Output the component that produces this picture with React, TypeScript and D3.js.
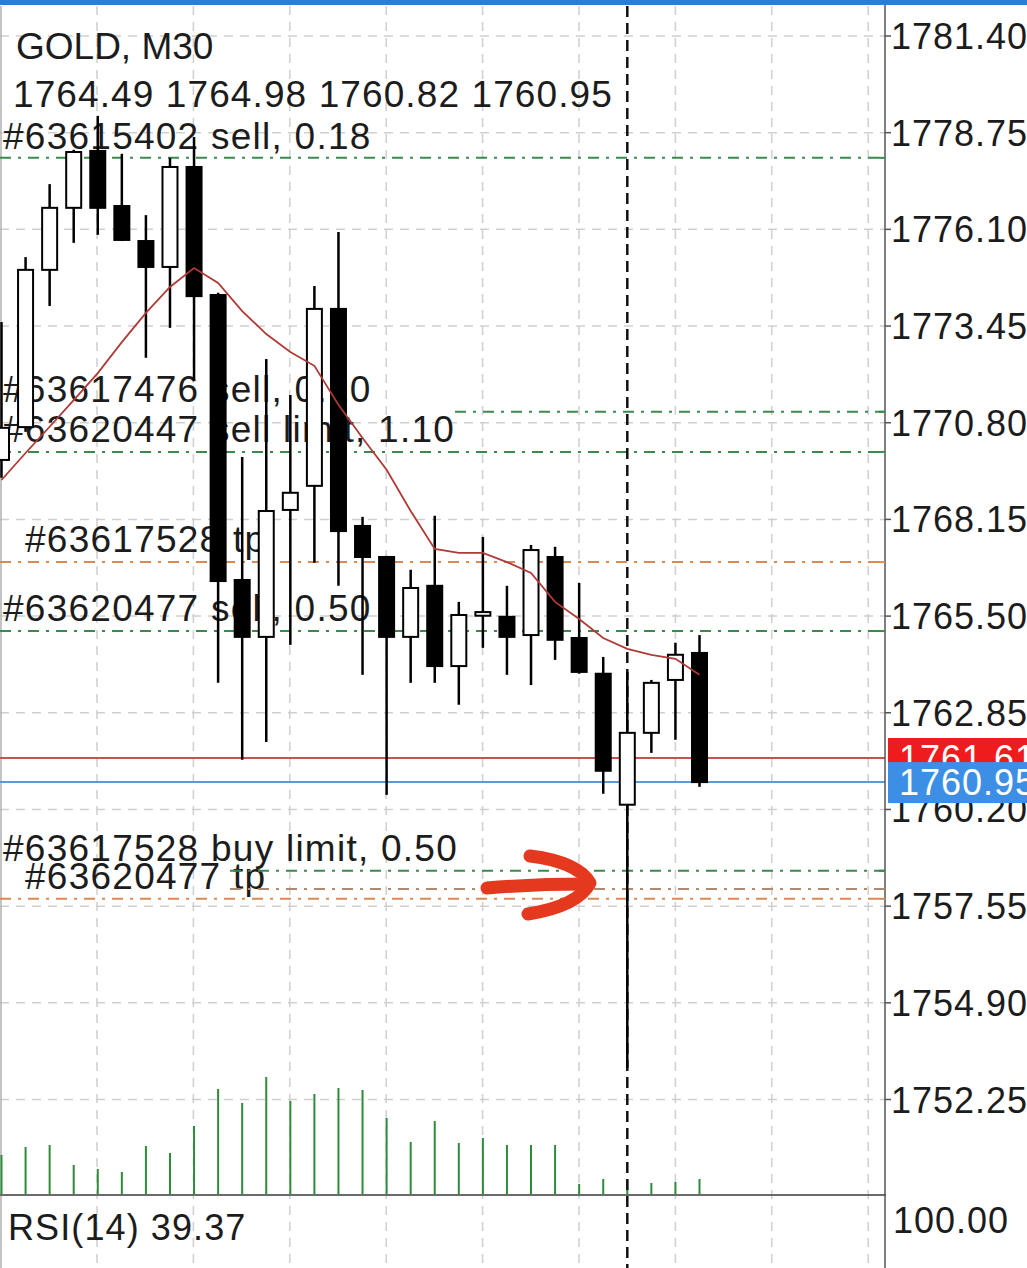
import React from 'react';
import * as d3 from 'd3';

// ---- data ----
const opens = [1769.78,1770.68,1774.99,1776.69,1778.25,1776.74,1775.78,1775.07,1777.81,1774.30,1766.49,1764.93,1768.41,1769.07,1773.92,1767.97,1767.12,1764.93,1766.33,1764.13,1765.51,1765.48,1764.98,1767.12,1764.90,1763.92,1760.33,1762.30,1763.75,1764.49];
const highs = [1773.56,1775.34,1777.34,1778.28,1779.21,1778.17,1776.49,1778.06,1778.63,1774.36,1769.86,1772.55,1771.56,1774.55,1776.03,1768.22,1767.15,1766.77,1768.25,1765.89,1767.67,1766.33,1767.45,1767.40,1766.41,1764.38,1763.97,1763.75,1764.77,1764.98];
const lows = [1769.29,1770.55,1774.00,1775.73,1775.95,1775.78,1772.58,1773.40,1771.97,1763.67,1761.56,1762.05,1764.71,1766.96,1766.33,1763.89,1760.60,1763.67,1763.67,1763.07,1764.63,1763.89,1763.61,1764.30,1763.92,1760.63,1753.12,1761.75,1762.11,1760.82];
const closes = [1770.66,1774.99,1776.69,1778.22,1776.69,1775.81,1775.07,1777.81,1774.27,1766.46,1764.93,1768.38,1768.88,1773.92,1767.83,1767.12,1764.93,1766.27,1764.13,1765.53,1765.61,1764.93,1767.31,1764.85,1763.97,1761.26,1762.30,1763.67,1764.44,1760.95];
const volumes = [39,47,49,29,25,22,48,41,68,105,91,117,93,100,106,104,76,52,73,51,56,49,49,49,10,15,14,11,12,15];
const maValues = [1769.23,1769.97,1770.69,1771.42,1772.16,1773.01,1773.81,1774.52,1775.04,1774.63,1773.86,1773.23,1772.74,1772.36,1771.29,1770.38,1769.51,1768.38,1767.34,1767.23,1767.23,1766.98,1766.68,1765.89,1765.42,1764.90,1764.60,1764.44,1764.33,1763.89];
const priceTicks = [1781.40,1778.75,1776.10,1773.45,1770.80,1768.15,1765.50,1762.85,1760.20,1757.55,1754.90,1752.25];
const gridBars = [4,8,12,16,20,24,28,32,36];

const orderLevels = [1778.06, 1771.10, 1770.00, 1766.98, 1765.09, 1758.52, 1758.02, 1757.75];
const orderTypes = ['green','green','green','orange','green','green','brown','orange'];
const orderLabels = [
  '#63615402 sell, 0.18',
  '#63617476 sell, 0.10',
  '#63620447 sell limit, 1.10',
  '#63617528 tp',
  '#63620477 sell, 0.50',
  '#63617528 buy limit, 0.50',
  '#63620477 tp',
];
const askPrice = 1761.61;
const bidPrice = 1760.95;
const titleText = 'GOLD, M30';
const ohlcText = '1764.49 1764.98 1760.82 1760.95';
const rsiText = 'RSI(14) 39.37';
const rsiTopLabel = '100.00';
const crossBar = 26;

// ---- layout / style ----
const W = 1027, H = 1268;
const AXIS_X = 885;
const FONT = '"Liberation Sans", Arial, Helvetica, sans-serif';
const lineColors: Record<string, string> = { green: '#3b8a4c', orange: '#d98a55', brown: '#b08a70' };
const orderLineStart = [0, 455, 0, 0, 0, 230, 230, 0];
const labelPos = [
  [3, 149], [3, 402], [3, 442], [25, 552], [3, 621], [3, 861], [25, 889],
];

export default function App() {
  const x = d3.scaleLinear().domain([0, 29]).range([1.5, 699.5]);
  const y = d3.scaleLinear().domain([1781.40, 1752.25]).range([36, 1099.5]);
  const vy = d3.scaleLinear().domain([0, 100]).range([1194, 1094]);
  const maLine = d3.line<number>().x((_, i) => x(i)).y(d => y(d))(maValues) || '';
  const bodyW = 15;

  return (
    <svg width={W} height={H} style={{ position: 'absolute', left: 0, top: 0, background: '#fff' }}
      fontFamily={FONT}>
      <rect x={0} y={0} width={W} height={H} fill="#fff" />
      {/* horizontal grid */}
      {priceTicks.map((t, i) => (
        <line key={'hg' + i} x1={0} x2={AXIS_X} y1={y(t)} y2={y(t)} stroke="#cfcfcf" strokeWidth={1.5} strokeDasharray="9 7" />
      ))}
      {/* vertical grid */}
      {gridBars.map((b, i) => (
        <line key={'vg' + i} x1={97 + (b - 4) * 24.1} x2={97 + (b - 4) * 24.1} y1={6} y2={H} stroke="#cfcfcf" strokeWidth={1.5} strokeDasharray="9 7" />
      ))}
      <line x1={1} x2={1} y1={6} y2={H} stroke="#b0b0b0" strokeWidth={1.5} />

      {/* texts */}
      <text x={16} y={59} fontSize={37} fill="#1c1c1c">{titleText}</text>
      <text x={13} y={107} fontSize={37} letterSpacing={1.1} fill="#1c1c1c">{ohlcText}</text>
      {orderLabels.map((t, i) => (
        <text key={'ol' + i} x={labelPos[i][0]} y={labelPos[i][1]} fontSize={37} letterSpacing={1.25} fill="#1c1c1c">{t}</text>
      ))}

      {/* order lines */}
      {orderLevels.map((p, i) => (
        <line key={'ord' + i} x1={orderLineStart[i]} x2={AXIS_X} y1={y(p)} y2={y(p)}
          stroke={lineColors[orderTypes[i]]} strokeWidth={2} strokeDasharray="11 7 3 7" />
      ))}
      {/* ask / bid lines */}
      <line x1={0} x2={AXIS_X} y1={y(askPrice)} y2={y(askPrice)} stroke="#c9524f" strokeWidth={2} />
      <line x1={0} x2={AXIS_X} y1={y(bidPrice)} y2={y(bidPrice)} stroke="#5b9bd8" strokeWidth={2} />

      {/* volumes */}
      {volumes.map((v, i) => (
        <line key={'v' + i} x1={x(i)} x2={x(i)} y1={vy(0)} y2={vy(v)} stroke="#2f8a3a" strokeWidth={2} />
      ))}

      {/* crosshair */}
      <line x1={x(crossBar)} x2={x(crossBar)} y1={6} y2={H} stroke="#111" strokeWidth={2.5} strokeDasharray="11 6" />

      {/* candles */}
      {opens.map((o, i) => {
        const c = closes[i];
        const up = c >= o;
        const top = y(Math.max(o, c));
        const bot = y(Math.min(o, c));
        const cx = x(i);
        return (
          <g key={'c' + i}>
            <line x1={cx} x2={cx} y1={y(highs[i])} y2={y(lows[i])} stroke="#000" strokeWidth={2.5} />
            <rect x={cx - bodyW / 2} y={top} width={bodyW} height={Math.max(bot - top, 2)}
              fill={up ? '#fff' : '#000'} stroke="#000" strokeWidth={2} />
          </g>
        );
      })}

      {/* moving average */}
      <path d={maLine} fill="none" stroke="#b03a36" strokeWidth={1.8} />

      {/* panel separator */}
      <line x1={0} x2={AXIS_X + 6} y1={1195} y2={1195} stroke="#6a6a6a" strokeWidth={2} />

      {/* right axis */}
      <rect x={AXIS_X + 1} y={0} width={W - AXIS_X} height={H} fill="#fff" />
      <line x1={AXIS_X} x2={AXIS_X} y1={5} y2={H} stroke="#555" strokeWidth={1.5} />
      {priceTicks.map((t, i) => (
        <g key={'tk' + i}>
          <line x1={AXIS_X} x2={AXIS_X + 6} y1={y(t)} y2={y(t)} stroke="#555" strokeWidth={1.5} />
          <text x={891} y={y(t) + 13} fontSize={36} letterSpacing={1} fill="#1c1c1c">{t.toFixed(2)}</text>
        </g>
      ))}
      {orderLevels.map((p, i) => (
        <line key={'ot' + i} x1={AXIS_X - 6} x2={AXIS_X} y1={y(p)} y2={y(p)} stroke={lineColors[orderTypes[i]]} strokeWidth={2} />
      ))}
      {/* price boxes */}
      <rect x={888} y={y(askPrice) - 20} width={W - 888} height={41} fill="#ee1c1c" />
      <text x={899} y={y(askPrice) + 13} fontSize={36} letterSpacing={1} fill="#fff">{askPrice.toFixed(2)}</text>
      <rect x={888} y={y(bidPrice) - 20} width={W - 888} height={41} fill="#3d8fe6" />
      <text x={899} y={y(bidPrice) + 13} fontSize={36} letterSpacing={1} fill="#fff">{bidPrice.toFixed(2)}</text>

      {/* RSI panel */}
      <text x={8} y={1240} fontSize={36} letterSpacing={1.1} fill="#1c1c1c">{rsiText}</text>
      <text x={893} y={1233} fontSize={36} letterSpacing={1} fill="#1c1c1c">{rsiTopLabel}</text>

      {/* hand-drawn arrow */}
      <g fill="none" stroke="#e5391f" strokeWidth={13} strokeLinecap="round" strokeLinejoin="round">
        <path d="M 487 888 Q 535 884 586 884" />
        <path d="M 530 856 Q 578 862 590 883 Q 578 906 528 914" />
      </g>

      {/* top bar */}
      <rect x={0} y={0} width={W} height={5} fill="#2f7bd6" />
    </svg>
  );
}
